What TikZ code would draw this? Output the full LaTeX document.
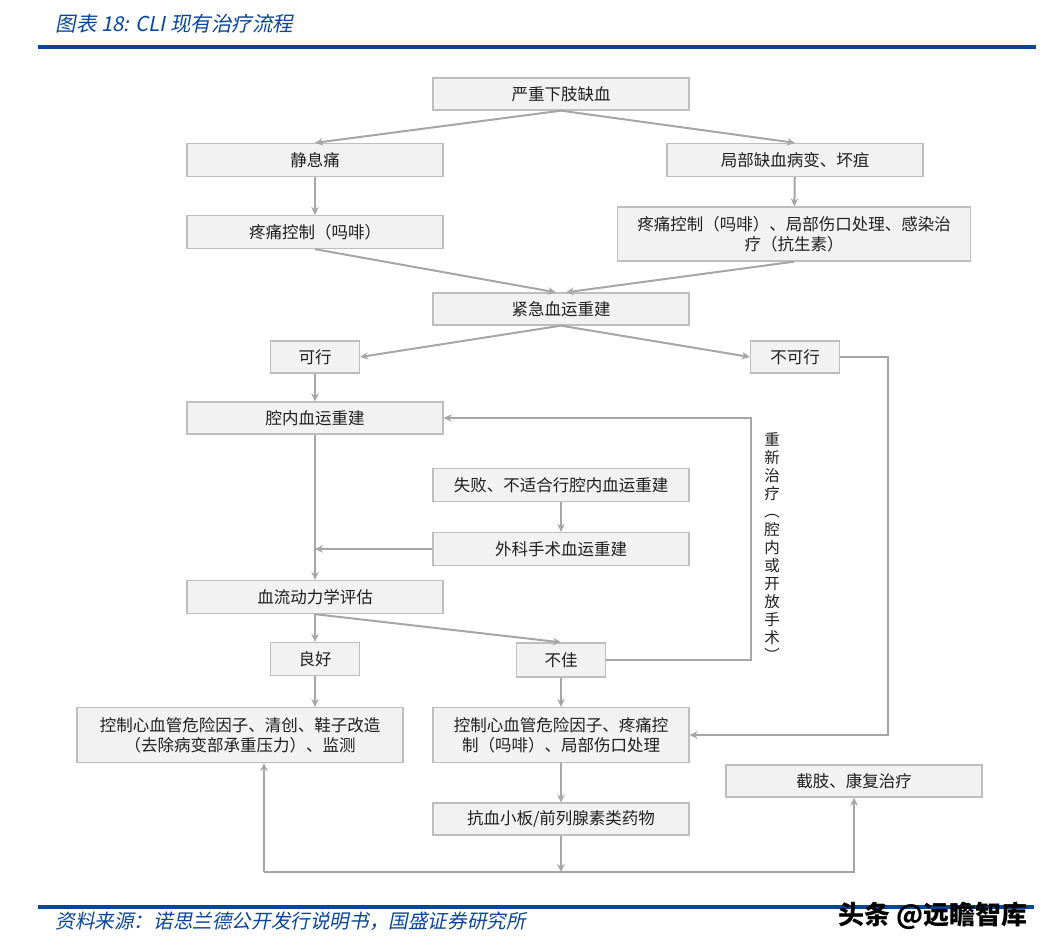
\documentclass[tikz,border=0pt]{standalone}
\usepackage{fontspec}
\usepackage{graphicx}
\usetikzlibrary{arrows.meta}
\newfontfamily\cjk{Noto Sans CJK SC}
\newfontfamily\cjkslant{Noto Sans CJK SC}[FakeSlant=0.2]
\newcommand\vparen[1]{\rotatebox[origin=c]{-90}{#1}}
\definecolor{boxfill}{RGB}{242,242,242}
\definecolor{boxline}{RGB}{190,190,190}
\definecolor{linegray}{RGB}{166,166,166}
\definecolor{rptblue}{RGB}{8,70,155}

\begin{document}
\begin{tikzpicture}[x=1pt,y=-1pt,
  box/.style={draw=boxline,fill=boxfill,line width=1.3pt,minimum width=256pt,minimum height=32pt,
    inner sep=0pt,align=center,text=black!88,font=\cjk\fontsize{16.5}{20}\selectfont},
  small/.style={box,minimum width=89pt},
  arr/.style={-{Stealth[length=8pt,width=7.5pt]},draw=linegray,line width=2pt},
  rule/.style={draw=rptblue,line width=3.5pt}]
\useasboundingbox (0,0) rectangle (1053,951);

% header and footer
\node[anchor=west,text=rptblue,font=\cjkslant\fontsize{20.5}{24}\selectfont] (title) at (52,24) {图表 18: CLI 现有治疗流程};
\draw[rule] (38,47) -- (1036,47);
\draw[rule] (38,907) -- (1034,907);
\node[anchor=west,text=rptblue,font=\cjkslant\fontsize{19.6}{24}\selectfont] (source) at (52,921) {资料来源：诺思兰德公开发行说明书，国盛证券研究所};
\node[font=\cjk\bfseries\fontsize{26}{30}\selectfont] (mark) at (933,916) {头条 @远瞻智库};

% boxes
\node[box] (top) at (561,94) {严重下肢缺血};
\node[box,minimum height=33pt] (rest) at (315,160) {静息痛};
\node[box,minimum height=33pt] (lesion) at (795,160) {局部缺血病变、坏疽};
\node[box,minimum height=33pt] (pain) at (315,232) {疼痛控制（吗啡）};
\node[box,minimum width=353pt,minimum height=54pt] (wound) at (794,234) {疼痛控制（吗啡）、局部伤口处理、感染治\\疗（抗生素）};
\node[box] (urgent) at (561,309) {紧急血运重建};
\node[small] (ok) at (315,357) {可行};
\node[small] (notok) at (795,357) {不可行};
\node[box] (endo) at (315,418) {腔内血运重建};
\node[box,minimum height=33pt] (fail) at (561,485) {失败、不适合行腔内血运重建};
\node[box,minimum height=33pt] (surg) at (561,549) {外科手术血运重建};
\node[box,minimum height=33pt] (hemo) at (315,597) {血流动力学评估};
\node[small,minimum height=33pt] (good) at (315,659) {良好};
\node[small,minimum height=34pt] (poor) at (561,660) {不佳};
\node[box,minimum width=326pt,minimum height=55pt] (careL) at (240,735) {控制心血管危险因子、清创、鞋子改造\\（去除病变部承重压力）、监测};
\node[box,minimum height=55pt] (careR) at (561,735) {控制心血管危险因子、疼痛控\\制（吗啡）、局部伤口处理};
\node[box] (amput) at (854,781) {截肢、康复治疗};
\node[box] (drug) at (561,819) {抗血小板/前列腺素类药物};
\node[text=black!88,align=center,font=\cjk\fontsize{15.5}{18}\selectfont] (redolbl) at (772,548)
  {重\\新\\治\\疗\\\vparen{（}\\腔\\内\\或\\开\\放\\手\\术\\\vparen{）}};

\coordinate (redo) at (751,540);
\coordinate (rgt) at (888,600);
\coordinate (joinL) at (264,872);

% connectors
\draw[arr] (top.south) -- (rest.north);
\draw[arr] (top.south) -- (lesion.north);
\draw[arr] (rest) -- (pain);
\draw[arr] (lesion) -- (wound);
\draw[arr] (pain.south) -- ([xshift=-5pt]urgent.north);
\draw[arr] (wound.south) -- ([xshift=5pt]urgent.north);
\draw[arr] (urgent.south) -- (ok.east);
\draw[arr] (urgent.south) -- (notok.west);
\draw[arr] (ok) -- (endo);
\draw[arr] (endo) -- (hemo);
\draw[arr] (fail) -- (surg);
\draw[arr] (surg.west) -- (surg.west -| endo.south);
\draw[arr] (hemo.south) -- (good.north);
\draw[arr] (hemo.south) -- (poor.north);
\draw[arr] (good.south) -- (good.south |- careL.north);
\draw[arr] (poor) -- (careR);
\draw[arr] (careR) -- (drug);
\draw[arr] (poor.east) -| (redo) |- (endo.east);
\draw[arr] (notok.east) -| (rgt) |- (careR.east);
\draw[arr] (drug.south) -- (drug.south |- joinL);
\draw[arr] (joinL) -| (amput.south);
\draw[arr] (joinL) -- (joinL |- careL.south);
\end{tikzpicture}
\end{document}
